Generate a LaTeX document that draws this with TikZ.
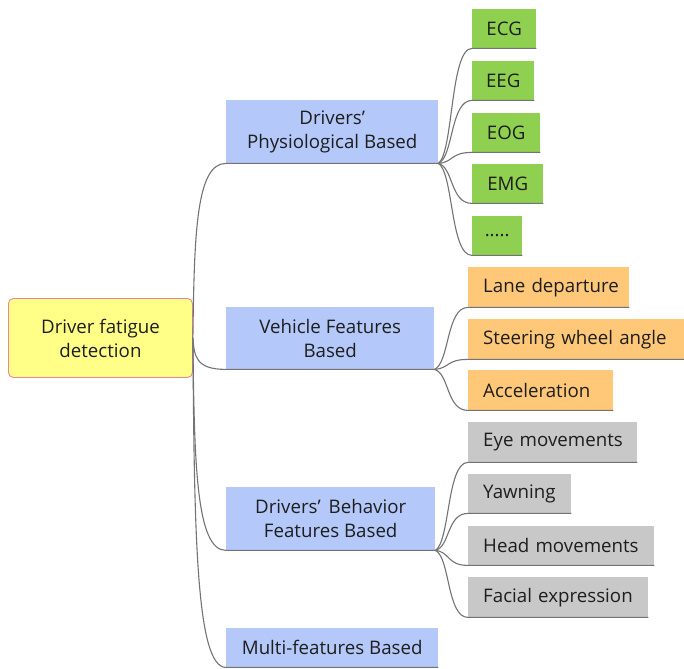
\documentclass[tikz,border=0pt]{standalone}
\usepackage{fontspec}
\setmainfont{Open Sans}
\usetikzlibrary{calc}
\definecolor{rootfill}{RGB}{255,255,136}
\definecolor{rootline}{RGB}{232,136,144}
\definecolor{lvlone}{RGB}{180,200,250}
\definecolor{greenleaf}{RGB}{143,208,80}
\definecolor{orangeleaf}{RGB}{255,200,120}
\definecolor{grayleaf}{RGB}{200,200,200}
\definecolor{connc}{RGB}{115,115,115}
\definecolor{txt}{RGB}{30,30,30}
\tikzset{
  basebox/.style={anchor=north west, inner ysep=0pt, text=txt,
    font=\fontsize{18.7}{24}\selectfont},
  rootbox/.style={basebox, fill=rootfill, draw=rootline, line width=0.9pt,
    rounded corners=5pt, align=center, inner xsep=0pt},
  midbox/.style={basebox, fill=lvlone, align=center, inner xsep=0pt},
  gleaf/.style={basebox, fill=greenleaf, align=center, inner xsep=0pt},
  oleaf/.style={basebox, fill=orangeleaf, align=left, inner xsep=15pt},
  hleaf/.style={basebox, fill=grayleaf, align=left, inner xsep=15pt},
  conn/.style={draw=connc, line width=1.1pt},
}
\newcommand\rootlink[2]{%
  \draw[conn] let \p1=(#1.east), \p2=(#2.south west) in
    (\p1) .. controls ({\x1+0.04*(\x2-\x1)},{\y1+0.6*(\y2-\y1)})
    and ({\x1+0.1*(\x2-\x1)},\y2) .. (\p2) -- (#2.south east);}
\newcommand\leaflink[2]{%
  \draw[conn] let \p1=(#1.south east), \p2=(#2.south west) in
    (\p1) .. controls ({\x1+0.45*(\x2-\x1)},{\y1+0.1*(\y2-\y1)})
    and ({\x1+0.35*(\x2-\x1)},\y2) .. (\p2) -- (#2.south east);}
\begin{document}
\begin{tikzpicture}[x=1pt,y=-1pt]
\useasboundingbox (0,0) rectangle (684,668);
% root
\node[rootbox, minimum width=184pt, minimum height=79pt] (root) at (8,298)
  {Driver fatigue\\detection};
% level one
\node[midbox, minimum width=212pt, minimum height=63pt] (phys) at (226,100)
  {Drivers’\\Physiological Based};
\node[midbox, minimum width=208pt, minimum height=62pt] (veh) at (226,307)
  {Vehicle Features\\Based};
\node[midbox, minimum width=209pt, minimum height=63pt] (beh) at (226,487)
  {Drivers’\hspace{8pt}Behavior\\Features Based};
\node[midbox, minimum width=212pt, minimum height=39pt] (multi) at (226,628)
  {Multi-features Based};
% green leaves
\node[gleaf, minimum width=64pt, minimum height=39pt] (ecg) at (472,9) {ECG};
\node[gleaf, minimum width=62pt, minimum height=39pt] (eeg) at (472,61) {EEG};
\node[gleaf, minimum width=68pt, minimum height=39pt] (eog) at (472,113) {EOG};
\node[gleaf, minimum width=71pt, minimum height=39pt] (emg) at (472,164) {EMG};
\node[gleaf, minimum width=50pt, minimum height=39pt] (dots) at (472,216) {.....};
% orange leaves
\node[oleaf, text width=131pt, minimum height=40pt] (lane) at (468,267) {\mbox{Lane departure}};
\node[oleaf, text width=186pt, minimum height=40pt] (steer) at (468,319) {\mbox{Steering wheel angle}};
\node[oleaf, text width=115pt, minimum height=40pt] (acc) at (468,370) {\mbox{Acceleration}};
% gray leaves
\node[hleaf, text width=139pt, minimum height=40pt] (eye) at (468,422) {\mbox{Eye movements}};
\node[hleaf, text width=73pt, minimum height=39pt] (yawn) at (468,474) {\mbox{Yawning}};
\node[hleaf, text width=156pt, minimum height=39pt] (head) at (468,526) {\mbox{Head movements}};
\node[hleaf, text width=150pt, minimum height=40pt] (face) at (468,577) {\mbox{Facial expression}};
% connectors
\rootlink{root}{phys}
\rootlink{root}{veh}
\rootlink{root}{beh}
\rootlink{root}{multi}
\leaflink{phys}{ecg}
\leaflink{phys}{eeg}
\leaflink{phys}{eog}
\leaflink{phys}{emg}
\leaflink{phys}{dots}
\leaflink{veh}{lane}
\leaflink{veh}{steer}
\leaflink{veh}{acc}
\leaflink{beh}{eye}
\leaflink{beh}{yawn}
\leaflink{beh}{head}
\leaflink{beh}{face}
\end{tikzpicture}
\end{document}
